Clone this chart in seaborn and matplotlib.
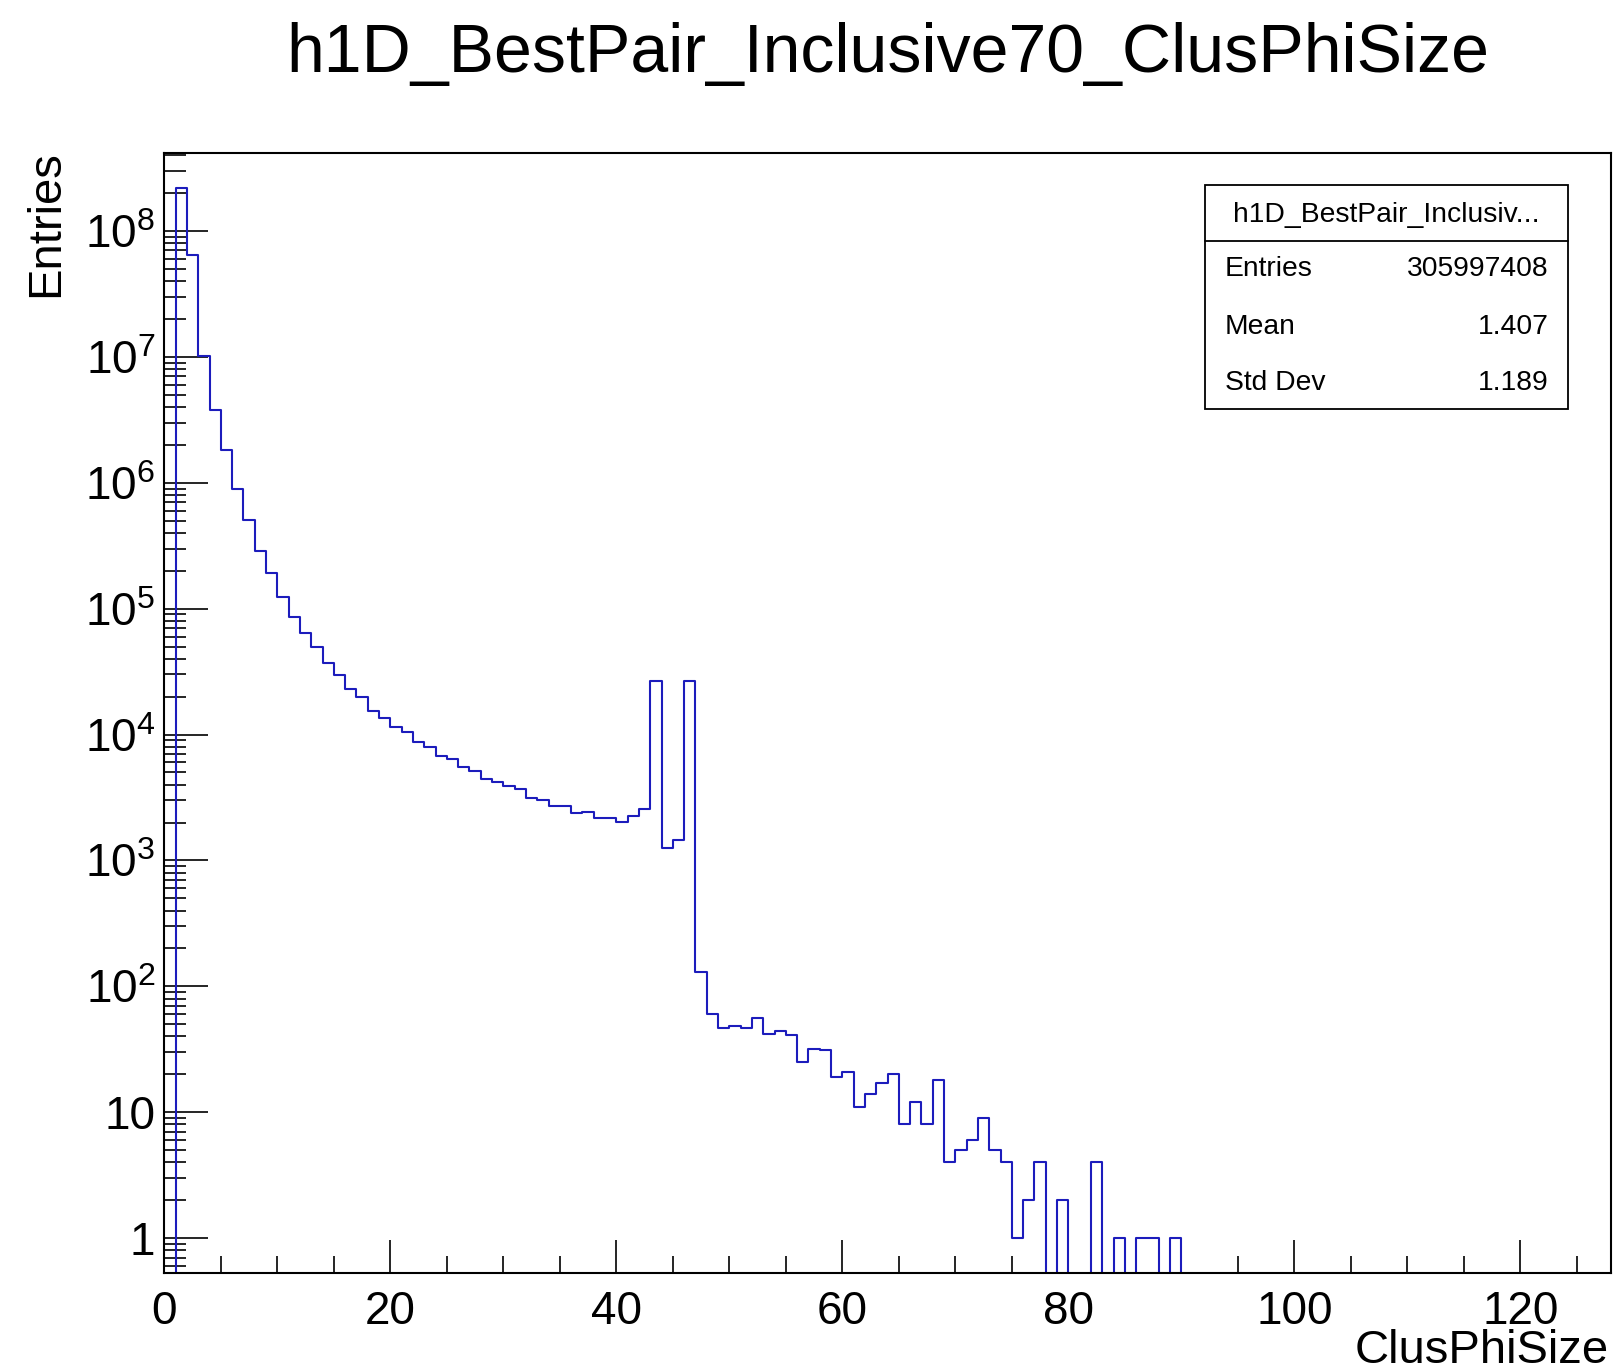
import numpy as np
import pandas as pd
import matplotlib
matplotlib.use("Agg")
import matplotlib.pyplot as plt
import seaborn as sns
from matplotlib.ticker import FixedLocator, FixedFormatter, LogLocator, NullFormatter, MultipleLocator
from matplotlib.patches import Rectangle
from matplotlib.lines import Line2D

# ---------------- data ----------------
title = "h1D_BestPair_Inclusive70_ClusPhiSize"
x_label = "ClusPhiSize"
y_label = "Entries"

bin_edges = list(range(0, 129))
counts = [
    0, 2.21e8, 6.4e7, 1.02e7, 3.78e6, 1.81e6, 9.0e5, 5.07e5, 2.87e5, 1.93e5,
    1.24e5, 8.6e4, 6.45e4, 4.99e4, 3.72e4, 2.96e4, 2.30e4, 1.98e4, 1.53e4, 1.36e4,
    1.14e4, 1.05e4, 8790, 7930, 6810, 6370, 5500, 5140, 4420, 4230,
    3930, 3670, 3150, 3020, 2720, 2720, 2370, 2440, 2190, 2190,
    2030, 2270, 2570, 26700, 1260, 1460, 26700, 131, 60, 47,
    48, 47, 56, 42, 44, 41, 25, 32, 31, 19,
    21, 11, 14, 17, 20, 8, 12, 8, 18, 4,
    5, 6, 9, 5, 4, 1, 2, 4, 0, 2,
    0, 0, 4, 0, 1, 0, 1, 1, 0, 1,
] + [0] * 38

x_tick_values = [0, 20, 40, 60, 80, 100, 120]
x_tick_labels = ["0", "20", "40", "60", "80", "100", "120"]
y_tick_values = [1, 1e1, 1e2, 1e3, 1e4, 1e5, 1e6, 1e7, 1e8]
y_tick_labels = ["1", "10", "$10^{2}$", "$10^{3}$", "$10^{4}$", "$10^{5}$",
                 "$10^{6}$", "$10^{7}$", "$10^{8}$"]

stats_header = "h1D_BestPair_Inclusiv..."
stats_names = ["Entries", "Mean", "Std Dev"]
stats_values = ["305997408", "1.407", "1.189"]

# ---------------- style ----------------
sns.set_style("white")
plt.rcParams["font.family"] = ["Liberation Sans", "DejaVu Sans"]
plt.rcParams["mathtext.fontset"] = "custom"
plt.rcParams["mathtext.rm"] = "Liberation Sans"
plt.rcParams["mathtext.default"] = "regular"
plt.rcParams["text.color"] = "black"
plt.rcParams["axes.labelcolor"] = "black"
plt.rcParams["xtick.color"] = "black"
plt.rcParams["ytick.color"] = "black"

W, H = 1619, 1369
fig = plt.figure(figsize=(W / 100, H / 100), dpi=100)
fig.patch.set_facecolor("white")

left, right, top, bottom = 164.3, 1610.7, 153.3, 1273.0
ax = fig.add_axes([left / W, 1 - bottom / H, (right - left) / W, (bottom - top) / H])
ax.set_yscale("log")

centers = [e + 0.5 for e in bin_edges[:-1]]
df = pd.DataFrame({"ClusPhiSize": centers, "Entries": counts})
sns.histplot(data=df, x="ClusPhiSize", weights="Entries", bins=bin_edges,
             element="step", fill=False, color="#1c1cbc", linewidth=1.5, ax=ax)

ax.set_xlim(0, 128)
ax.set_ylim(10 ** -0.277, 10 ** 8.617)
ax.set_xlabel("")
ax.set_ylabel("")

for s in ax.spines.values():
    s.set_visible(True)
    s.set_color("black")
    s.set_linewidth(1.5)

ax.xaxis.set_major_locator(FixedLocator(x_tick_values))
ax.xaxis.set_major_formatter(FixedFormatter(x_tick_labels))
ax.xaxis.set_minor_locator(MultipleLocator(5))
ax.yaxis.set_major_locator(FixedLocator(y_tick_values))
ax.yaxis.set_major_formatter(FixedFormatter(y_tick_labels))
ax.yaxis.set_minor_locator(LogLocator(base=10, subs=np.arange(2, 10), numticks=100))
ax.yaxis.set_minor_formatter(NullFormatter())

ax.tick_params(axis="x", which="major", direction="in", length=23.8, width=1.2,
               pad=12, labelsize=33, bottom=True, top=False, colors="black")
ax.tick_params(axis="x", which="minor", direction="in", length=12, width=1.2,
               bottom=True, top=False, colors="black")
ax.tick_params(axis="y", which="major", direction="in", length=32, width=1.2,
               pad=6.5, labelsize=33, left=True, right=False, colors="black")
ax.tick_params(axis="y", which="minor", direction="in", length=16, width=1.2,
               left=True, right=False, colors="black")

# titles
fig.text(887.5 / W, 1 - 72.3 / H, title, ha="center", va="baseline", fontsize=49)
fig.text(45.8 / W, 1 - 150.0 / H, y_label, rotation=90, ha="center", va="top", fontsize=34)
fig.text(1608.3 / W, 1 - 1363.0 / H, x_label, ha="right", va="baseline", fontsize=34)

# stats box
bx0, bx1, by0, by1 = 1205.0, 1568.3, 185.0, 409.3
fig.add_artist(Rectangle((bx0 / W, 1 - by1 / H), (bx1 - bx0) / W, (by1 - by0) / H,
                         transform=fig.transFigure, facecolor="white",
                         edgecolor="black", linewidth=1.3, zorder=5))
fig.add_artist(Line2D([bx0 / W, bx1 / W], [1 - 240.7 / H, 1 - 240.7 / H],
                      transform=fig.transFigure, color="black", linewidth=1.3, zorder=6))
fig.text((bx0 + bx1) / 2 / W, 1 - 221.5 / H, stats_header, ha="center", va="baseline",
         fontsize=20.3, zorder=7)
row_y = [276.5, 333.5, 390.0]
for name, val, yy in zip(stats_names, stats_values, row_y):
    fig.text(1225 / W, 1 - yy / H, name, ha="left", va="baseline", fontsize=20.3, zorder=7)
    fig.text(1548.3 / W, 1 - yy / H, val, ha="right", va="baseline", fontsize=20.3, zorder=7)

fig.savefig("out.png", dpi=100)
